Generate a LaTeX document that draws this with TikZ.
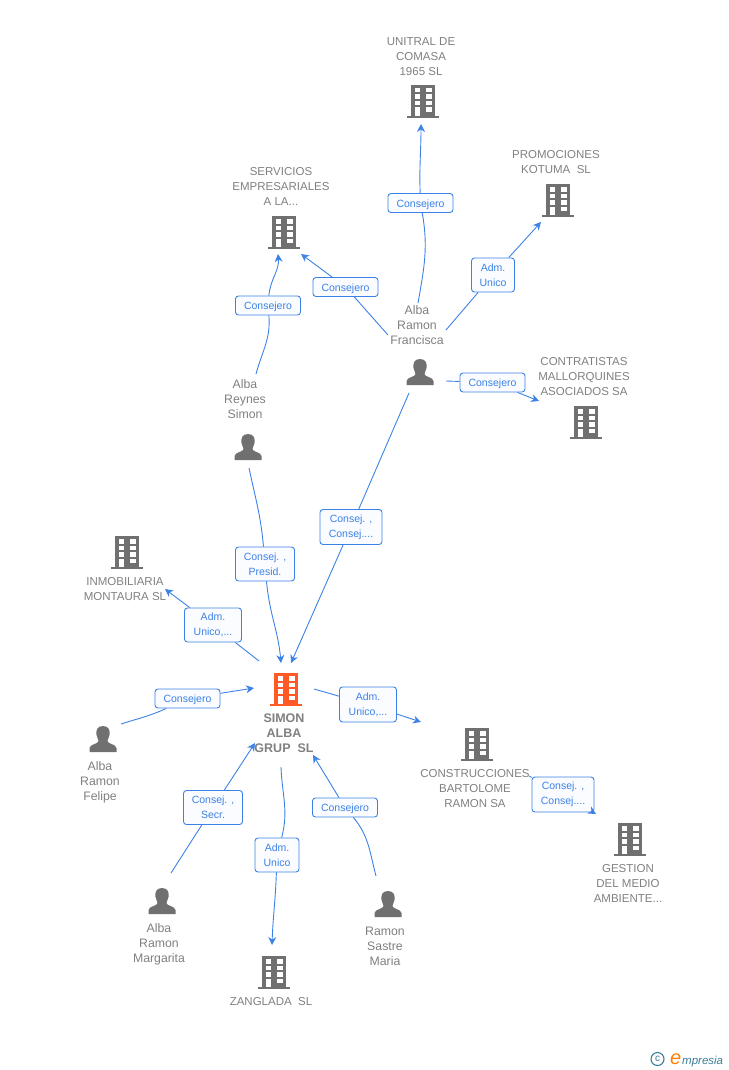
\documentclass[tikz,border=0pt]{standalone}
\usepackage{fontspec}
\setmainfont{Liberation Sans}
\usetikzlibrary{arrows.meta}
\definecolor{icongrey}{HTML}{707070}
\definecolor{textgrey}{HTML}{808080}
\definecolor{linkblue}{HTML}{3C82E6}
\definecolor{rolefill}{HTML}{FAFCFF}
\definecolor{centreorange}{HTML}{FF5A26}
\definecolor{logoteal}{HTML}{3A7D99}
\tikzset{
	entity/.style={text=textgrey,font=\fontsize{11.5}{15}\selectfont,align=center,inner sep=0pt},
	human/.style={entity,font=\fontsize{12.3}{15}\selectfont},
	role/.style={draw=linkblue,fill=rolefill,rounded corners=3pt,line width=0.9pt,text=linkblue,
		font=\fontsize{10.5}{15}\selectfont,align=center,inner sep=0pt},
	oneline/.style={role,minimum width=65pt,minimum height=19pt,text height=8pt,text depth=0pt},
	twoline/.style={role,minimum width=62pt,minimum height=35pt},
	link/.style={linkblue,line width=0.9pt},
	linkto/.style={link,-{Stealth[length=8pt,width=8pt]}},
	pics/firm/.style={code={
		\fill[#1] (-12,-16) rectangle (12,15);
		\fill[#1] (-16,15) rectangle (16,17);
		\foreach \row in {-13,-6.5,0}{
			\fill[white] (-8.5,\row) rectangle (-2.7,\row+4.5);
			\fill[white] (2.7,\row) rectangle (8.5,\row+4.5);
		}
		\fill[white] (-8.5,6.5) rectangle (-2.7,15);
		\fill[white] (2.7,6.5) rectangle (8.5,11);
	}},
	pics/firm/.default=icongrey,
	pics/person/.style={code={
		\fill[icongrey] (0,-13) .. controls (-6.5,-13) and (-7,-8) .. (-6.5,-4)
			.. controls (-6,-1) and (-4.5,0) .. (-4.5,2)
			.. controls (-4.5,5) and (-13,5) .. (-13.5,9) -- (-13.5,13) -- (13.5,13) -- (13.5,9)
			.. controls (13,5) and (4.5,5) .. (4.5,2)
			.. controls (4.5,0) and (6,-1) .. (6.5,-4)
			.. controls (7,-8) and (6.5,-13) .. (0,-13) -- cycle;
	}},
}
\begin{document}
\begin{tikzpicture}[x=1pt,y=-1pt]
\useasboundingbox (0,0) rectangle (728,1070);

% firms
\pic at (423,101) {firm};
\pic at (558,200) {firm};
\pic at (284,232) {firm};
\pic at (586,422) {firm};
\pic at (127,552) {firm};
\pic at (286,689) {firm=centreorange};
\pic at (477,744) {firm};
\pic at (630,839) {firm};
\pic at (274,972) {firm};

% people
\pic at (420,372) {person};
\pic at (248,447) {person};
\pic at (103,739) {person};
\pic at (162,901) {person};
\pic at (388,904) {person};

% names
\node[entity] (unitral) at (421,56.5) {UNITRAL DE\\COMASA\\1965 SL};
\node[entity] (kotuma) at (556,162) {PROMOCIONES\\KOTUMA\ \ SL};
\node[entity] (servicios) at (281,186.5) {SERVICIOS\\EMPRESARIALES\\A LA...};
\node[entity] (contratistas) at (584,376.5) {CONTRATISTAS\\MALLORQUINES\\ASOCIADOS SA};
\node[entity] (inmobiliaria) at (125,589.5) {INMOBILIARIA\\MONTAURA SL};
\node[entity,font=\fontsize{12.5}{15}\selectfont\bfseries] (simon) at (284,733) {SIMON\\ALBA\\GRUP\ \ SL};
\node[entity] (construcciones) at (475,788.5) {CONSTRUCCIONES\\BARTOLOME\\RAMON SA};
\node[entity] (gestion) at (628,883.5) {GESTION\\DEL MEDIO\\AMBIENTE...};
\node[entity] (zanglada) at (271,1001.5) {ZANGLADA\ \ SL};
\node[human] (francisca) at (417,325) {Alba\\Ramon\\Francisca};
\node[human] (reynes) at (245,399) {Alba\\Reynes\\Simon};
\node[human] (felipe) at (100,782) {Alba\\Ramon\\Felipe};
\node[human] (margarita) at (159,944) {Alba\\Ramon\\Margarita};
\node[human] (sastre) at (385,946) {Ramon\\Sastre\\Maria};

% roles
\node[oneline] (rUnitral) at (420.5,203) {Consejero};
\node[twoline,minimum width=43pt,minimum height=34pt] (rKotuma) at (493,275) {Adm.\\Unico};
\node[oneline] (rServicios) at (345.5,287) {Consejero};
\node[oneline] (rReynes) at (268,305.5) {Consejero};
\node[oneline] (rContratistas) at (492.5,382.5) {Consejero};
\node[twoline] (rFrancisca) at (351,527) {Consej. ,\\Consej....};
\node[twoline,minimum width=59pt,minimum height=34pt] (rSimon) at (265,564) {Consej. ,\\Presid.};
\node[twoline,minimum width=57pt,minimum height=34pt] (rInmobiliaria) at (213,625) {Adm.\\Unico,...};
\node[oneline] (rFelipe) at (187.5,698.5) {Consejero};
\node[twoline,minimum width=57pt,minimum height=35pt] (rConstrucciones) at (368,704.5) {Adm.\\Unico,...};
\node[twoline,minimum width=62pt] (rGestion) at (563,794.5) {Consej. ,\\Consej....};
\node[twoline,minimum width=59pt,minimum height=34pt] (rMargarita) at (213,807.5) {Consej. ,\\Secr.};
\node[oneline] (rSastre) at (345,807.5) {Consejero};
\node[twoline,minimum width=44pt,minimum height=34pt] (rZanglada) at (277,855) {Adm.\\Unico};

% free ends
\coordinate (a1) at (418,303);
\coordinate (a2) at (421,124);
\coordinate (b1) at (388,335);
\coordinate (b2) at (301,254);
\coordinate (c1) at (446,330);
\coordinate (c2) at (541,222);
\coordinate (d1) at (446,381);
\coordinate (d2) at (539,401);
\coordinate (e1) at (409,393);
\coordinate (e2) at (291,663);
\coordinate (f1) at (256,374);
\coordinate (f2) at (278,254);
\coordinate (g1) at (249,468);
\coordinate (g2) at (281,663);
\coordinate (h1) at (259,661);
\coordinate (h2) at (165,589);
\coordinate (i1) at (121,724);
\coordinate (i2) at (254,688);
\coordinate (j1) at (171,873);
\coordinate (j2) at (255,743);
\coordinate (k1) at (281,767);
\coordinate (k2) at (272,945);
\coordinate (l1) at (376,876);
\coordinate (l2) at (313,755);
\coordinate (m1) at (314,689);
\coordinate (m2) at (421,722);
\coordinate (n1) at (529,776);
\coordinate (n2) at (596,814);

% links
\draw[link] (a1) to[out=80,in=-80] (rUnitral);
\draw[linkto] (rUnitral) to[out=92,in=-90] (a2);
\draw[link] (b1) -- (rServicios);
\draw[linkto] (rServicios) -- (b2);
\draw[link] (c1) -- (rKotuma);
\draw[linkto] (rKotuma) -- (c2);
\draw[link] (d1) -- (rContratistas);
\draw[linkto] (rContratistas) -- (d2);
\draw[link] (e1) -- (rFrancisca);
\draw[linkto] (rFrancisca) -- (e2);
\draw[link] (f1) to[out=75,in=-85] (rReynes);
\draw[linkto] (rReynes) to[out=85,in=-85] (f2);
\draw[link] (g1) to[out=-78,in=95] (rSimon);
\draw[linkto] (rSimon) to[out=-85,in=95] (g2);
\draw[link] (h1) -- (rInmobiliaria);
\draw[linkto] (rInmobiliaria) -- (h2);
\draw[link] (i1) to[out=18,in=-155] (rFelipe);
\draw[linkto] (rFelipe) -- (i2);
\draw[link] (j1) -- (rMargarita);
\draw[linkto] (rMargarita) -- (j2);
\draw[link] (k1) to[out=-88,in=75] (rZanglada);
\draw[linkto] (rZanglada) to[out=-92,in=88] (k2);
\draw[link] (l1) to[out=105,in=-50] (rSastre);
\draw[linkto] (rSastre) -- (l2);
\draw[link] (m1) -- (rConstrucciones);
\draw[linkto] (rConstrucciones) -- (m2);
\draw[link] (n1) -- (rGestion);
\draw[linkto] (rGestion) -- (n2);

% logo
\node[circle,draw=logoteal,line width=1.1pt,inner sep=0pt,minimum size=13pt,text=logoteal,font=\fontsize{10}{10}\selectfont] (copyright) at (657.5,1059) {c};
\node[anchor=base west,inner sep=0pt,font=\itshape\fontsize{20}{20}\selectfont,text=orange] (logoe) at (670,1064) {e};
\node[anchor=base west,inner sep=0pt,font=\itshape\fontsize{11.5}{12}\selectfont,text=logoteal] (logotext) at (682,1064) {mpresia};
\end{tikzpicture}
\end{document}
